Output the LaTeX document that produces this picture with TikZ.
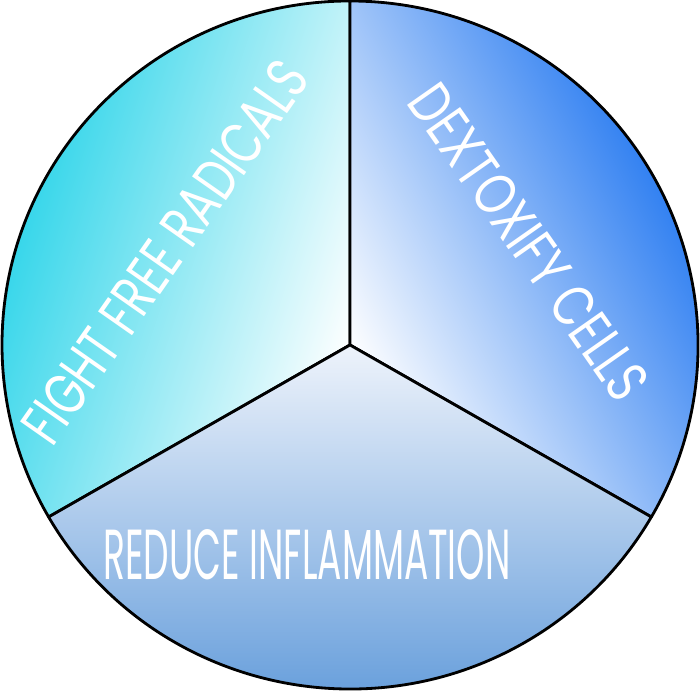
\documentclass[tikz,border=0pt]{standalone}
\usepackage{fontspec}
\setmainfont{Poppins}
\usepackage{tikz}
\definecolor{cyanfill}{HTML}{22D2E8}
\definecolor{bluefill}{HTML}{0062EE}
\definecolor{paleblue}{HTML}{EEF3FB}
\definecolor{skyblue}{HTML}{5895D8}
\tikzset{>=stealth}
\usetikzlibrary{positioning}

\begin{document}
\begin{tikzpicture}[
        slice/.style={draw=black, line width=0.8pt, line join=round},
        slicetext/.style={text=white, inner sep=0pt}]
        \useasboundingbox (0,0) rectangle (7,6.91);

        % Centre and the three points on the rim
        \coordinate (c) at (3.5,3.46);
        \coordinate (ptop) at (3.5,6.90);
        \coordinate (pleft) at (0.486,1.74);
        \coordinate (pright) at (6.514,1.74);

        % Draw the three slices
        \draw[slice, top color=cyanfill, bottom color=white, shading angle=72] (c) -- (ptop) arc[start angle=90, end angle=210, x radius=3.48, y radius=3.44] -- cycle;
        \draw[slice, top color=bluefill, bottom color=white, shading angle=-62] (c) -- (pright) arc[start angle=-30, end angle=90, x radius=3.48, y radius=3.44] -- cycle;
        \draw[slice, top color=paleblue, bottom color=skyblue] (c) -- (pleft) arc[start angle=210, end angle=330, x radius=3.48, y radius=3.44] -- cycle;

        % Texts of the slices
        \node[slicetext, rotate=55] (fight) at (1.65,4.39) {\resizebox{4.5cm}{0.42cm}{FIGHT FREE RADICALS}};
        \node[slicetext, rotate=-55] (detox) at (5.29,4.49) {\resizebox{3.7cm}{0.42cm}{DEXTOXIFY CELLS}};
        \node[slicetext] (reduce) at (3.07,1.36) {\resizebox{4.07cm}{0.5cm}{REDUCE INFLAMMATION}};

    \end{tikzpicture}
\end{document}
